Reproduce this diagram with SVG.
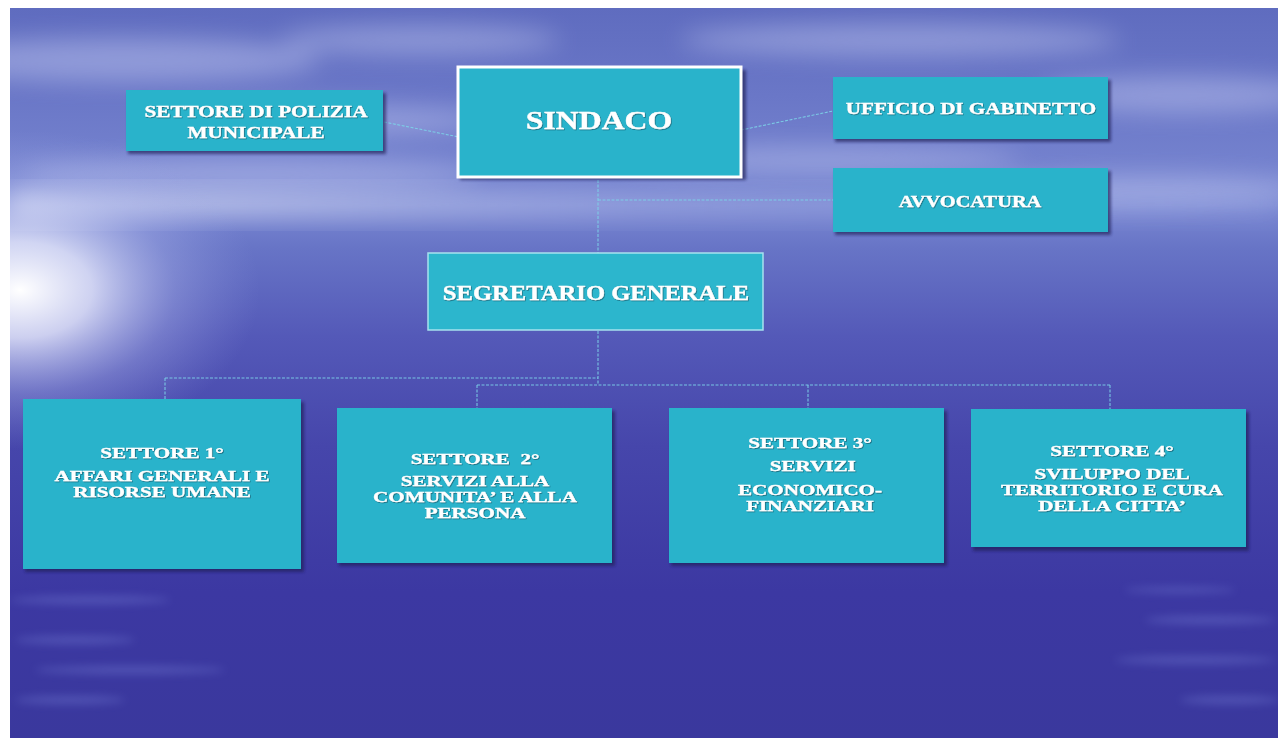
<svg xmlns="http://www.w3.org/2000/svg" width="1278" height="738" viewBox="0 0 1278 738">
<defs>
<clipPath id="photo"><rect x="10" y="8" width="1268" height="730"/></clipPath>
<linearGradient id="sky" x1="0" y1="0" x2="0" y2="1">
<stop offset="0" stop-color="#5f6cbf"/>
<stop offset="0.12" stop-color="#6a77c7"/>
<stop offset="0.27" stop-color="#7a88d2"/>
<stop offset="0.33" stop-color="#6774c6"/>
<stop offset="0.45" stop-color="#5459b8"/>
<stop offset="0.6" stop-color="#4646ab"/>
<stop offset="0.8" stop-color="#3c38a2"/>
<stop offset="1" stop-color="#3a389d"/>
</linearGradient>
<radialGradient id="glow" cx="0" cy="0" r="1" gradientUnits="userSpaceOnUse" gradientTransform="translate(20,290) scale(240,160)">
<stop offset="0" stop-color="#ffffff" stop-opacity="1"/>
<stop offset="0.3" stop-color="#eef0ff" stop-opacity="0.78"/>
<stop offset="0.65" stop-color="#b8c0f0" stop-opacity="0.32"/>
<stop offset="1" stop-color="#9aa4e4" stop-opacity="0"/>
</radialGradient>
<linearGradient id="horizon" x1="0" y1="0" x2="1" y2="0">
<stop offset="0" stop-color="#ffffff" stop-opacity="0.6"/>
<stop offset="0.5" stop-color="#c8d0f4" stop-opacity="0.3"/>
<stop offset="1" stop-color="#b0bcee" stop-opacity="0.12"/>
</linearGradient>
<filter id="blur" x="-20%" y="-50%" width="140%" height="200%"><feGaussianBlur stdDeviation="12"/></filter>
<filter id="blur2" x="-20%" y="-50%" width="140%" height="200%"><feGaussianBlur stdDeviation="4"/></filter>
<filter id="shd" x="-10%" y="-10%" width="120%" height="130%"><feGaussianBlur stdDeviation="1.5"/></filter>
<filter id="ts" x="-5%" y="-20%" width="110%" height="150%"><feDropShadow dx="0.6" dy="0.8" stdDeviation="0.5" flood-color="#103040" flood-opacity="0.6"/></filter>
</defs>
<style>
.box{fill:#29b3cb}
.sh{fill:#1c1c55;opacity:0.65;filter:url(#shd)}
.t{font-family:"Liberation Serif","Times New Roman","DejaVu Serif",serif;font-weight:bold;fill:#ffffff;stroke:#ffffff;stroke-width:0.35;text-anchor:middle;filter:url(#ts)}
.s{font-size:15.5px}
.con{fill:none;stroke:#7cd2e8;stroke-width:1.1;stroke-dasharray:3 1.5;opacity:0.9}
</style>
<rect x="0" y="0" width="1278" height="738" fill="#ffffff"/>
<g id="background" clip-path="url(#photo)">
<rect x="10" y="8" width="1268" height="730" fill="url(#sky)"/>
<g filter="url(#blur)" fill="#c4cbf2" opacity="0.45">
<ellipse cx="120" cy="60" rx="200" ry="22"/>
<ellipse cx="330" cy="120" rx="160" ry="14"/>
<ellipse cx="420" cy="40" rx="140" ry="14"/>
<ellipse cx="900" cy="40" rx="220" ry="16"/>
<ellipse cx="1180" cy="95" rx="140" ry="18"/>
<ellipse cx="250" cy="175" rx="230" ry="16"/>
<ellipse cx="820" cy="160" rx="200" ry="12"/>
<ellipse cx="1150" cy="190" rx="160" ry="14"/>
</g>
<rect x="10" y="192" width="1268" height="26" fill="url(#horizon)" filter="url(#blur)"/>
<rect x="10" y="8" width="1268" height="730" fill="url(#glow)"/>
<g filter="url(#blur2)" fill="#6e76cf" opacity="0.45">
<ellipse cx="90" cy="600" rx="80" ry="4"/>
<ellipse cx="75" cy="640" rx="60" ry="4"/>
<ellipse cx="130" cy="670" rx="95" ry="4"/>
<ellipse cx="70" cy="700" rx="55" ry="4"/>
<ellipse cx="1210" cy="620" rx="65" ry="4"/>
<ellipse cx="1195" cy="660" rx="80" ry="4"/>
<ellipse cx="1230" cy="700" rx="50" ry="4"/>
<ellipse cx="1180" cy="590" rx="55" ry="3"/>
</g>
</g>
<g id="connectors">
<path class="con" d="M384,122 L459,137"/>
<path class="con" d="M741,130 L833,111"/>
<path class="con" d="M598,180 V254"/>
<path class="con" d="M598,200 H833"/>
<path class="con" d="M598,331 V385"/>
<path class="con" d="M165,378 H598"/>
<path class="con" d="M477,385 H1110"/>
<path class="con" d="M165,378 V400"/>
<path class="con" d="M477,385 V408"/>
<path class="con" d="M808,385 V408"/>
<path class="con" d="M1110,385 V409"/>
</g>
<g id="polizia">
<rect class="sh" x="128" y="93" width="258" height="61"/>
<rect class="box" x="126" y="90" width="257" height="61"/>
<g transform="translate(256,0) scale(1.21,1)">
<text class="t" x="0" y="117" font-size="17.5">SETTORE DI POLIZIA</text>
<text class="t" x="0" y="138" font-size="17.5">MUNICIPALE</text>
</g>
</g>
<g id="sindaco">
<rect class="sh" x="460" y="70" width="286" height="110"/>
<rect x="458" y="67" width="283" height="110" fill="#29b3cb" stroke="#ffffff" stroke-width="3"/>
<g transform="translate(599,0) scale(1.22,1)">
<text class="t" x="0" y="129" font-size="26">SINDACO</text>
</g>
</g>
<g id="gabinetto">
<rect class="sh" x="835" y="80" width="276" height="62"/>
<rect class="box" x="833" y="77" width="275" height="62"/>
<g transform="translate(971,0) scale(1.22,1)">
<text class="t" x="0" y="114" font-size="17.3">UFFICIO DI GABINETTO</text>
</g>
</g>
<g id="avvocatura">
<rect class="sh" x="835" y="171" width="276" height="64"/>
<rect class="box" x="833" y="168" width="275" height="64"/>
<g transform="translate(970,0) scale(1.2,1)">
<text class="t" x="0" y="207" font-size="17">AVVOCATURA</text>
</g>
</g>
<g id="segretario">
<rect x="428" y="253" width="335" height="77" fill="#2cb6cd" stroke="#a6e2ee" stroke-width="1.5"/>
<g transform="translate(596,0) scale(1.23,1)">
<text class="t" x="0" y="300" font-size="20">SEGRETARIO GENERALE</text>
</g>
</g>
<g id="settore1">
<rect class="sh" x="25" y="402" width="279" height="170"/>
<rect class="box" x="23" y="399" width="278" height="170"/>
<g transform="translate(162,0) scale(1.36,1)">
<text class="t s" x="0" y="458">SETTORE 1°</text>
<text class="t s" x="0" y="481">AFFARI GENERALI E</text>
<text class="t s" x="0" y="497">RISORSE UMANE</text>
</g>
</g>
<g id="settore2">
<rect class="sh" x="339" y="411" width="276" height="155"/>
<rect class="box" x="337" y="408" width="275" height="155"/>
<g transform="translate(475,0) scale(1.36,1)">
<text class="t s" x="0" y="464" xml:space="preserve">SETTORE  2°</text>
<text class="t s" x="0" y="486">SERVIZI ALLA</text>
<text class="t s" x="0" y="502">COMUNITA’ E ALLA</text>
<text class="t s" x="0" y="518">PERSONA</text>
</g>
</g>
<g id="settore3">
<rect class="sh" x="671" y="411" width="276" height="155"/>
<rect class="box" x="669" y="408" width="275" height="155"/>
<g transform="translate(810,0) scale(1.36,1)">
<text class="t s" x="0" y="448">SETTORE 3°</text>
<text class="t s" x="2" y="471">SERVIZI</text>
<text class="t s" x="0" y="495">ECONOMICO-</text>
<text class="t s" x="0" y="511">FINANZIARI</text>
</g>
</g>
<g id="settore4">
<rect class="sh" x="973" y="412" width="276" height="139"/>
<rect class="box" x="971" y="409" width="275" height="138"/>
<g transform="translate(1112,0) scale(1.36,1)">
<text class="t s" x="0" y="456">SETTORE 4°</text>
<text class="t s" x="0" y="479">SVILUPPO DEL</text>
<text class="t s" x="0" y="495">TERRITORIO E CURA</text>
<text class="t s" x="0" y="511">DELLA CITTA’</text>
</g>
</g>
</svg>
